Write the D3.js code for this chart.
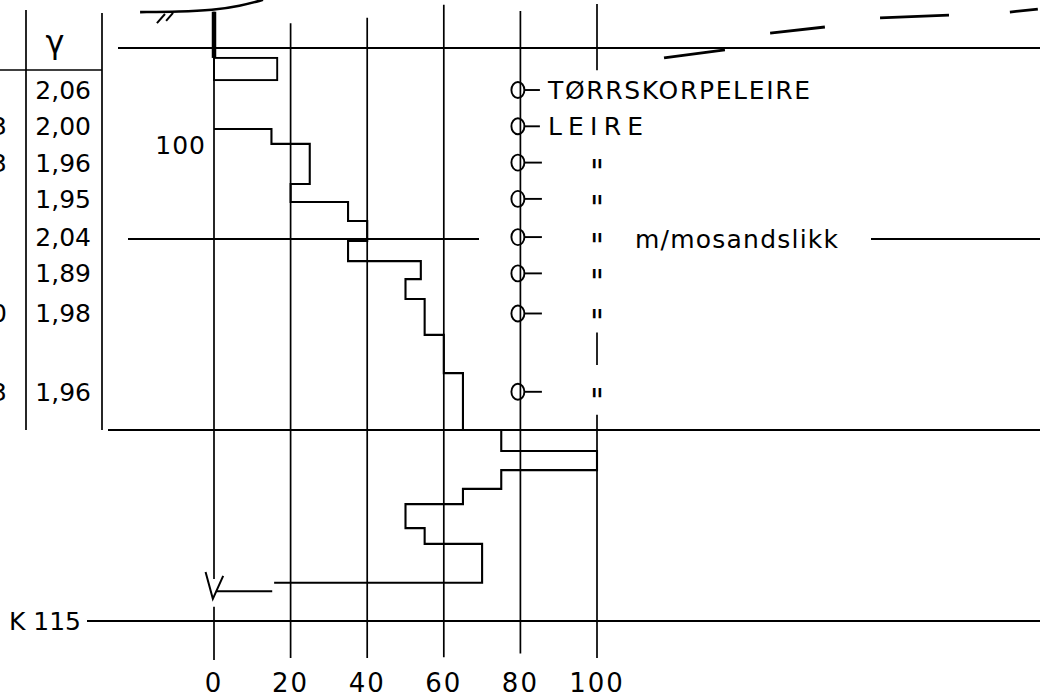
<!DOCTYPE html>
<html><head><meta charset="utf-8">
<script src="https://cdn.jsdelivr.net/npm/d3@7"></script>
<style>
html,body{margin:0;padding:0;background:#fff;}
svg{display:block;font-family:"DejaVu Sans",sans-serif;}
</style></head><body>
<svg id="chart" width="1050" height="697"></svg>
<script>
// ---------- data ----------
const gridValues = [0, 20, 40, 60, 80, 100];
const tickLabels = ["0", "20", "40", "60", "80", "100"];
const layerDepths = [0, 5, 10, 15];
const sampleDepths = [1.1, 2.05, 3.0, 3.95, 4.95, 5.9, 6.95, 9.0];
const gammaValues = ["2,06", "2,00", "1,96", "1,95", "2,04", "1,89", "1,98", "1,96"];
const waterContentTail = ["", "3", "3", "", "", "", "0", "3"];
const soilLabels = ["TØRRSKORPELEIRE", "LEIRE"];
const dittoRows = [2, 3, 4, 5, 6, 7];
const noteLabel = "m/mosandslikk";
const gammaHeader = "γ";
const crustDepths = [0.26, 0.84];
const crustValue = 16.5;
const upperDepths = [2.12, 2.51, 3.56, 4.03, 4.53, 5.05, 5.58, 6.05, 6.57, 7.51, 8.51, 10.0];
const upperValues = [15, 25, 20, 35, 40, 35, 54, 50, 55, 60, 65];
const lowerDepths = [10.0, 10.55, 11.05, 11.54, 11.94, 12.57, 12.98, 14.0];
const lowerValues = [75, 100, 75, 65, 50, 55, 70];
const tailValue = 15.7;
const arrowDepth = 14.22;
const groundCurve = [[-19.3, -0.94], [-8.9, -0.95], [-0.3, -0.99], [6.8, -1.1], [12.8, -1.26]];
const terrainDashes = [
  [[117.5, 0.26], [133.4, 0.05]],
  [[145.2, -0.39], [159.5, -0.55]],
  [[173.9, -0.79], [191.9, -0.86]],
  [[207.8, -0.94], [215.1, -1.02]]
];
const elevationTop = "100";
const elevationBottom = "K 115";

// ---------- scales ----------
const x = d3.scaleLinear().domain([0, 100]).range([214, 597]);
const y = d3.scaleLinear().domain([0, 15]).range([48, 621]);
const svg = d3.select("#chart");
const ink = "#000";
const FS = 25;

// ---------- horizontal layer lines ----------
const hLines = [
  {d: 0, segs: [[118, 1040]]},
  {d: 5, segs: [[128, 479], [871, 1040]]},
  {d: 10, segs: [[108, 1040]]},
  {d: 15, segs: [[87, 1040]]}
];
hLines.forEach(h => h.segs.forEach(s => {
  svg.append("line").attr("x1", s[0]).attr("x2", s[1])
    .attr("y1", y(h.d)).attr("y2", y(h.d))
    .attr("stroke", ink).attr("stroke-width", 1.9);
}));

// ---------- vertical grid lines ----------
const vExtents = {
  0: [[-0.95, 13.9], [14.63, 16.02]],
  20: [[-0.65, 15.97]],
  40: [[-0.79, 15.97]],
  60: [[-1.13, 15.95]],
  80: [[-0.97, 15.85]],
  100: [[-1.15, 0.58], [7.45, 8.3], [9.6, 15.97]]
};
gridValues.forEach(v => vExtents[v].forEach(e => {
  svg.append("line").attr("x1", x(v)).attr("x2", x(v))
    .attr("y1", y(e[0])).attr("y2", y(e[1]))
    .attr("stroke", ink).attr("stroke-width", 1.7);
}));

// bottom tick labels
svg.append("g").selectAll("text").data(gridValues).join("text")
  .attr("x", d => x(d)).attr("y", 692)
  .attr("text-anchor", "middle").attr("font-size", 26)
  .attr("letter-spacing", 2)
  .text((d, i) => tickLabels[i]);

// ---------- left table ----------
svg.append("line").attr("x1", 26).attr("x2", 26).attr("y1", 10).attr("y2", y(10))
  .attr("stroke", ink).attr("stroke-width", 1.7);
svg.append("line").attr("x1", 102).attr("x2", 102).attr("y1", 13).attr("y2", y(10))
  .attr("stroke", ink).attr("stroke-width", 1.7);
svg.append("line").attr("x1", 0).attr("x2", 102).attr("y1", 70).attr("y2", 70)
  .attr("stroke", ink).attr("stroke-width", 1.7);
svg.append("text").attr("x", 55).attr("y", 53).attr("text-anchor", "middle")
  .attr("font-size", 32).text(gammaHeader);
svg.append("g").selectAll("text").data(sampleDepths).join("text")
  .attr("x", 91).attr("y", d => y(d) + 9)
  .attr("text-anchor", "end").attr("font-size", FS)
  .text((d, i) => gammaValues[i]);
svg.append("g").selectAll("text").data(sampleDepths).join("text")
  .attr("x", 7).attr("y", d => y(d) + 9)
  .attr("text-anchor", "end").attr("font-size", FS)
  .text((d, i) => waterContentTail[i]);

// ---------- elevation labels ----------
svg.append("text").attr("x", x(0) - 8).attr("y", y(2.54) + 9)
  .attr("text-anchor", "end").attr("font-size", FS).attr("letter-spacing", 1)
  .text(elevationTop);
svg.append("text").attr("x", 81).attr("y", y(15) + 9)
  .attr("text-anchor", "end").attr("font-size", FS)
  .text(elevationBottom);

// ---------- ground surface ----------
const lineGen = d3.line().x(p => x(p[0])).y(p => y(p[1]));
svg.append("path").attr("d", lineGen.curve(d3.curveBasis)(groundCurve))
  .attr("fill", "none").attr("stroke", ink).attr("stroke-width", 2.6);
lineGen.curve(d3.curveLinear);
[[[-12.8, -0.89], [-14.9, -0.65]], [[-10.7, -0.92], [-12.5, -0.71]]].forEach(s => {
  svg.append("path").attr("d", lineGen(s)).attr("stroke", ink).attr("stroke-width", 2);
});
terrainDashes.forEach(s => {
  svg.append("path").attr("d", lineGen(s)).attr("stroke", ink).attr("stroke-width", 2.8);
});
svg.append("line").attr("x1", x(0)).attr("x2", x(0))
  .attr("y1", y(-0.95)).attr("y2", y(crustDepths[0]))
  .attr("stroke", ink).attr("stroke-width", 4.5);

// ---------- profiles ----------
svg.append("rect").attr("x", x(0)).attr("y", y(crustDepths[0]))
  .attr("width", x(crustValue) - x(0)).attr("height", y(crustDepths[1]) - y(crustDepths[0]))
  .attr("fill", "none").attr("stroke", ink).attr("stroke-width", 1.9);

function stepPoints(depths, values, startVal) {
  const pts = [];
  if (startVal !== undefined) pts.push([startVal, depths[0]]);
  values.forEach((v, i) => { pts.push([v, depths[i]]); pts.push([v, depths[i + 1]]); });
  return pts;
}
svg.append("path").attr("d", lineGen(stepPoints(upperDepths, upperValues, 0)))
  .attr("fill", "none").attr("stroke", ink).attr("stroke-width", 2.1);
const lowPts = stepPoints(lowerDepths, lowerValues);
lowPts.push([tailValue, lowerDepths[lowerDepths.length - 1]]);
svg.append("path").attr("d", lineGen(lowPts))
  .attr("fill", "none").attr("stroke", ink).attr("stroke-width", 2.1);
svg.append("path").attr("d", lineGen([[tailValue - 0.5, arrowDepth], [0.5, arrowDepth]]))
  .attr("stroke", ink).attr("stroke-width", 2);
svg.append("path").attr("d", lineGen([[-2.2, arrowDepth - 0.5], [-0.3, arrowDepth + 0.2], [2.4, arrowDepth - 0.4]]))
  .attr("fill", "none").attr("stroke", ink).attr("stroke-width", 2);

// ---------- sample markers ----------
const cx = x(80) - 2.5;
svg.append("g").selectAll("ellipse").data(sampleDepths).join("ellipse")
  .attr("cx", cx).attr("cy", d => y(d)).attr("rx", 6.5).attr("ry", 8)
  .attr("fill", "none").attr("stroke", ink).attr("stroke-width", 1.9);
svg.append("g").selectAll("line").data(sampleDepths).join("line")
  .attr("x1", cx + 6.5).attr("x2", (d, i) => i < 2 ? cx + 22 : cx + 24)
  .attr("y1", d => y(d)).attr("y2", d => y(d))
  .attr("stroke", ink).attr("stroke-width", 1.9);
svg.append("text").attr("x", 548).attr("y", y(sampleDepths[0]) + 9)
  .attr("font-size", FS).attr("textLength", 262).attr("lengthAdjust", "spacing")
  .text(soilLabels[0]);
svg.append("text").attr("x", 548).attr("y", y(sampleDepths[1]) + 9)
  .attr("font-size", FS).attr("textLength", 95).attr("lengthAdjust", "spacing")
  .text(soilLabels[1]);
svg.append("g").selectAll("text").data(dittoRows).join("text")
  .attr("x", x(100)).attr("y", i => y(sampleDepths[i]) + 21)
  .attr("text-anchor", "middle").attr("font-size", 34)
  .attr("font-family", "DejaVu Sans Condensed")
  .text('"');
svg.append("text").attr("x", 635).attr("y", y(5) + 9)
  .attr("font-size", FS).attr("textLength", 203).attr("lengthAdjust", "spacing")
  .text(noteLabel);
</script>
</body></html>
